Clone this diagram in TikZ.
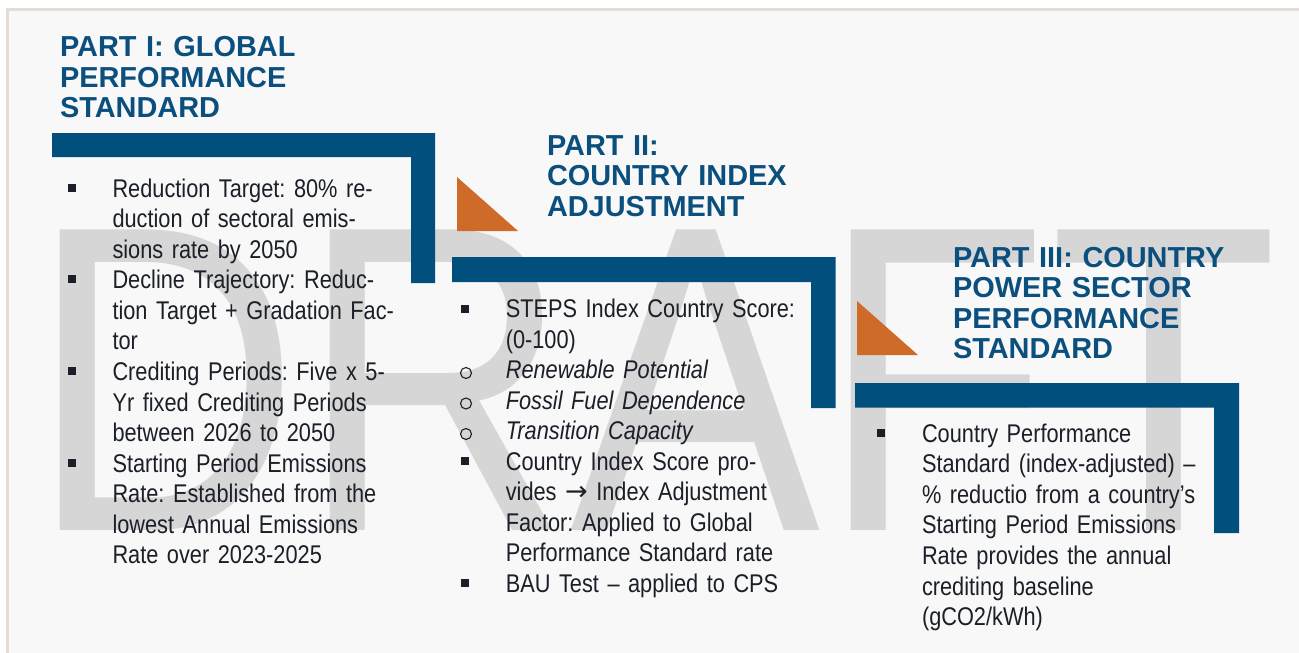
\documentclass[tikz,border=0pt]{standalone}
\usepackage{fontspec}
\newfontfamily\bodyfont{Liberation Sans}[FakeStretch=0.85]
\newfontfamily\headfont{Liberation Sans}
\newfontfamily\markfont{Liberation Sans}[FakeStretch=0.858]
\newfontfamily\arrowfont{DejaVu Sans}
\definecolor{panelbg}{HTML}{F8F8F8}
\definecolor{panelrim}{HTML}{E5DCD5}
\definecolor{barblue}{HTML}{004F7C}
\definecolor{headblue}{HTML}{0B4F7E}
\definecolor{wedge}{HTML}{CF6B29}
\definecolor{markgray}{HTML}{D6D6D6}
\definecolor{ink}{HTML}{1A1F28}
\begin{document}
\frenchspacing
\begin{tikzpicture}[x=1pt,y=-1pt,
  every node/.style={inner sep=0pt,outer sep=0pt},
  head/.style={anchor=base west,text=headblue,text width=320pt,align=left,
    font=\headfont\bfseries\fontsize{28.9}{30.5}\selectfont},
  body/.style={anchor=base west,text=ink,text width=340pt,align=left,
    font=\bodyfont\fontsize{25.6}{30.6}\selectfont\frenchspacing},
  sqbullet/.style={fill=ink,minimum size=8pt,rectangle},
  ringbullet/.style={draw=ink,line width=1.1pt,circle,minimum size=11pt},
  bar/.style={fill=barblue},
  tri/.style={fill=wedge}]
\useasboundingbox (0,0) rectangle (1299,653);
\fill[white] (0,0) rectangle (1299,653);
% panel with its rim on the top and left
\fill[panelbg] (7.5,9.5) rectangle (1299,653);
\draw[panelrim,line width=3pt] (7.5,653) -- (7.5,9.5) -- (1299,9.5);

% watermark
\node[anchor=base west,text=markgray,font=\markfont\fontsize{437}{437}\selectfont]
  (mark) at (29,530) {DRAFT};

% corner bars
\fill[bar] (52,133) -- (435,133) -- (435,283) -- (411,283) -- (411,157) -- (52,157) -- cycle;
\fill[bar] (452,257) -- (835.5,257) -- (835.5,408) -- (811,408) -- (811,282) -- (452,282) -- cycle;
\fill[bar] (855,383) -- (1239,383) -- (1239,533) -- (1214,533) -- (1214,407.5) -- (855,407.5) -- cycle;

% orange wedges
\fill[tri] (457,177) -- (457,231) -- (518,231) -- cycle;
\fill[tri] (857,301) -- (857,355) -- (918,355) -- cycle;

% headings
\node[head] (h1) at (60,56.7) {PART I: GLOBAL\\PERFORMANCE\\STANDARD};
\node[head] (h2) at (547,155) {PART II:\\COUNTRY INDEX\\ADJUSTMENT};
\node[head] (h3) at (953,267) {PART III: COUNTRY\\POWER SECTOR\\PERFORMANCE\\STANDARD};

% part I list
\node[sqbullet] (b11) at (72,187.5) {};
\node[body] (t11) at (112.5,197) {Reduction Target: 80\% re-\\duction of sectoral emis-\\sions rate by 2050};
\node[sqbullet] (b12) at (72,279) {};
\node[body] (t12) at (112.5,288.5) {Decline Trajectory: Reduc-\\tion Target + Gradation Fac-\\tor};
\node[sqbullet] (b13) at (72,371) {};
\node[body] (t13) at (112.5,380.5) {Crediting Periods: Five x 5-\\Yr fixed Crediting Periods\\between 2026 to 2050};
\node[sqbullet] (b14) at (72,462.5) {};
\node[body] (t14) at (112.5,472) {Starting Period Emissions\\Rate: Established from the\\lowest Annual Emissions\\Rate over 2023-2025};

% part II list
\node[sqbullet] (b21) at (465,308.5) {};
\node[body] (t21) at (505.8,317.5) {STEPS Index Country Score:\\(0-100)};
\node[ringbullet] (b22) at (466,373) {};
\node[body] (t22) at (505.8,378.5) {\itshape Renewable Potential};
\node[ringbullet] (b23) at (466,403.5) {};
\node[body] (t23) at (505.8,409) {\itshape Fossil Fuel Dependence};
\node[ringbullet] (b24) at (466,434) {};
\node[body] (t24) at (505.8,439.5) {\itshape Transition Capacity};
\node[sqbullet] (b25) at (465,461) {};
\node[body] (t25) at (505.8,470) {Country Index Score pro-\\vides {\arrowfont\fontsize{27}{30.6}\selectfont →} Index Adjustment\\Factor: Applied to Global\\Performance Standard rate};
\node[sqbullet] (b26) at (465,583) {};
\node[body] (t26) at (505.8,592) {BAU Test – applied to CPS};

% part III list
\node[sqbullet] (b31) at (881,432.5) {};
\node[body] (t31) at (922,442) {Country Performance\\Standard (index-adjusted) –\\\% reductio from a country’s\\Starting Period Emissions\\Rate provides the annual\\crediting baseline\\(gCO2/kWh)};
\end{tikzpicture}
\end{document}
